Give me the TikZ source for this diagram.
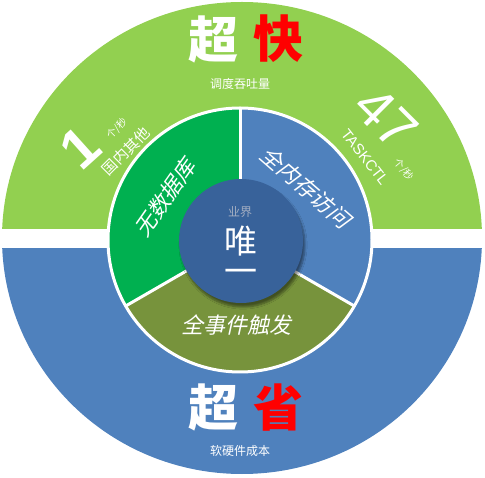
\documentclass[tikz,border=0pt]{standalone}
\usepackage{fontspec}
\setmainfont{Liberation Sans}
\newfontfamily\cjk{Noto Sans CJK SC}
\newfontfamily\cjkit[FakeSlant=0.22]{Noto Sans CJK SC}
\usetikzlibrary{shadows.blur}
\definecolor{lgreen}{HTML}{92D050}
\definecolor{oblue}{HTML}{4F81BD}
\definecolor{igreen}{HTML}{00B050}
\definecolor{iblue}{HTML}{4F81BD}
\definecolor{olive}{HTML}{77933C}
\definecolor{cblue}{HTML}{38629A}
\definecolor{graytxt}{HTML}{A3AEC2}
\tikzset{
  big/.style={font=\cjk\bfseries\fontsize{50}{50}\selectfont, inner sep=0pt},
  small/.style={text=white, font=\cjk\fontsize{12}{12}\selectfont, inner sep=0pt},
  sector/.style={text=white, font=\cjkit\fontsize{22}{22}\selectfont, inner sep=0pt},
  divider/.style={white, line width=3pt},
}
\begin{document}
\begin{tikzpicture}[x=1pt,y=1pt]
\useasboundingbox (0,0) rectangle (485,-478);
% outer halves
\begin{scope}
  \clip (0,-229) rectangle (485,0);
  \fill[lgreen] (242,-238) ellipse [x radius=240, y radius=236];
\end{scope}
\begin{scope}
  \clip (0,-249) rectangle (485,-478);
  \fill[oblue] (242,-238) ellipse [x radius=240, y radius=236];
\end{scope}
% inner ring
\coordinate (c) at (240,-240);
\fill[igreen] (c) -- ++(90:132) arc[start angle=90, end angle=210, radius=132] -- cycle;
\fill[iblue] (c) -- ++(-30:132) arc[start angle=-30, end angle=90, radius=132] -- cycle;
\fill[olive] (c) -- ++(210:132) arc[start angle=210, end angle=330, radius=132] -- cycle;
\draw[divider] (c) circle[radius=132];
\draw[divider] (c) -- ++(90:132);
\draw[divider] (c) -- ++(210:132);
\draw[divider] (c) -- ++(330:132);
% center disc
\node[circle, fill=cblue, minimum size=124pt, inner sep=0pt,
      blur shadow={shadow xshift=2pt, shadow yshift=-4pt, shadow blur steps=6, shadow opacity=45}]
      (hub) at (241,-241) {};
\node[text=graytxt, font=\cjk\fontsize{12}{12}\selectfont, inner sep=0pt] (yj) at (240,-212) {业界};
\node[text=white, font=\cjk\fontsize{33}{33}\selectfont, inner sep=0pt] (wei) at (241,-241) {唯};
\node[text=white, font=\cjk\fontsize{33}{33}\selectfont, inner sep=0pt] (yi) at (241,-276) {一};
% top title
\node[big, text=white] (chao1) at (213,-39) {超};
\node[big, text=red] (kuai) at (278,-39) {快};
\node[small] (ddtt) at (240,-84) {调度吞吐量};
% bottom title
\node[big, text=white] (chao2) at (213,-407) {超};
\node[big, text=red] (sheng) at (278,-408) {省};
\node[small] (rycb) at (240,-451) {软硬件成本};
% left stats
\node[text=white, font=\bfseries\fontsize{56}{56}\selectfont, inner sep=0pt, rotate=42] (one) at (80,-148) {1};
\node[text=white, font=\cjk\fontsize{10}{10}\selectfont, inner sep=0pt, rotate=45] (lps) at (117,-129) {个/秒};
\node[text=white, font=\cjk\fontsize{15}{15}\selectfont, inner sep=0pt, rotate=45] (gnqt) at (126,-151) {国内其他};
% right stats
\node[text=white, font=\fontsize{56}{56}\selectfont, inner sep=0pt, rotate=-45] (ft) at (386,-118) {47};
\node[text=white, font=\fontsize{15}{15}\selectfont, inner sep=0pt, rotate=-52] (task) at (365,-157) {TASKCTL};
\node[text=white, font=\cjk\fontsize{10}{10}\selectfont, inner sep=0pt, rotate=-50] (rps) at (404,-170) {个/秒};
% sector labels
\node[sector, rotate=55] (wsjk) at (165,-198) {无数据库};
\node[sector, rotate=-41] (qncf) at (306,-187) {全内存访问};
\node[sector] (qsjc) at (236,-325) {全事件触发};
\end{tikzpicture}
\end{document}
